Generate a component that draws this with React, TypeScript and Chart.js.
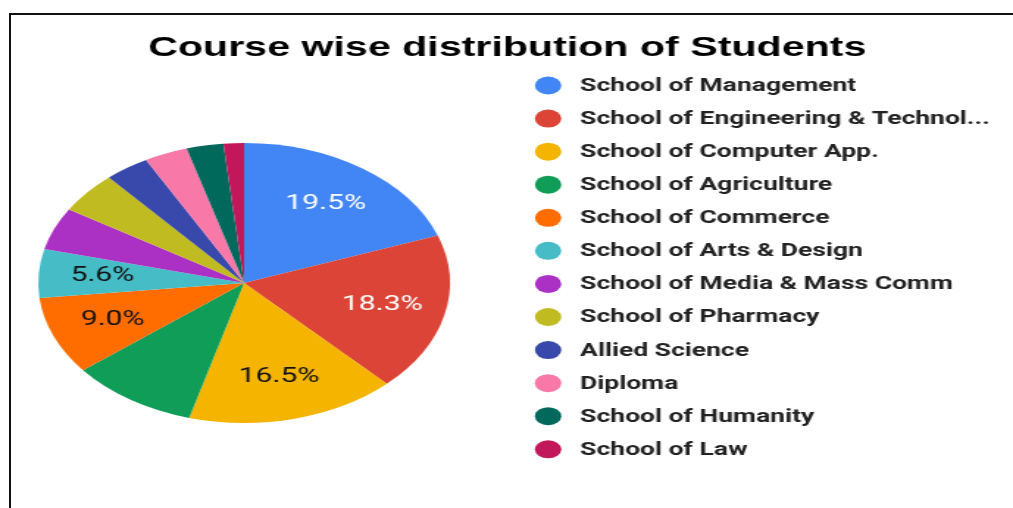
import React, { useEffect, useRef } from "react";
import { Chart, registerables } from "chart.js";

Chart.register(...registerables);

const TITLE = "Course wise distribution of Students";

const categories = [
  "School of Management",
  "School of Engineering & Technol...",
  "School of Computer App.",
  "School of Agriculture",
  "School of Commerce",
  "School of Arts & Design",
  "School of Media & Mass Comm",
  "School of Pharmacy",
  "Allied Science",
  "Diploma",
  "School of Humanity",
  "School of Law",
];

const shares = [19.5, 18.3, 16.5, 10.0, 9.0, 5.6, 4.9, 4.8, 3.5, 3.4, 2.9, 1.6];

const sliceColors = [
  "#4285F4",
  "#DB4437",
  "#F4B400",
  "#0F9D58",
  "#FF6D00",
  "#46BDC6",
  "#AB30C4",
  "#C1BB22",
  "#3949AB",
  "#F878A8",
  "#00695C",
  "#C2185B",
];

// label colour per slice (null = no label shown)
const labelColors: (string | null)[] = [
  "#ffffff",
  "#ffffff",
  "#111111",
  null,
  "#111111",
  "#111111",
  null,
  null,
  null,
  null,
  null,
  null,
];

const PAGE_W = 1013;
const PAGE_H = 508;
const SX = 1.47; // horizontal stretch of the picture
const CW = Math.round(PAGE_W / SX);
const CH = PAGE_H;

const overlayPlugin = {
  id: "overlay",
  afterDatasetsDraw(chart: any) {
    const ctx = chart.ctx;
    const meta = chart.getDatasetMeta(0);
    ctx.save();
    // slice labels
    ctx.font = '20.5px Roboto, "Noto Sans", sans-serif';
    ctx.textAlign = "center";
    ctx.textBaseline = "middle";
    meta.data.forEach((arc: any, i: number) => {
      const col = labelColors[i];
      if (!col) return;
      const p = arc.getProps(["x", "y", "startAngle", "endAngle", "outerRadius"], true);
      const mid = (p.startAngle + p.endAngle) / 2;
      const r = p.outerRadius * 0.69;
      ctx.fillStyle = col;
      ctx.fillText(shares[i].toFixed(1) + "%", p.x + Math.cos(mid) * r, p.y + Math.sin(mid) * r);
    });
    // title
    ctx.fillStyle = "#000000";
    ctx.font = 'bold 28px "Liberation Sans", Arial, sans-serif';
    ctx.fillText(TITLE, 345, 48);
    // legend
    const dotX = 372.8;
    const textX = 394.6;
    const y0 = 85.5;
    const step = 33.07;
    ctx.textAlign = "left";
    ctx.font = 'bold 18px Roboto, "Noto Sans", sans-serif';
    categories.forEach((name, i) => {
      const y = y0 + i * step;
      ctx.fillStyle = sliceColors[i];
      ctx.beginPath();
      ctx.arc(dotX, y, 9, 0, Math.PI * 2);
      ctx.fill();
      ctx.fillStyle = "#222222";
      ctx.fillText(name, textX, y + 1);
    });
    ctx.restore();
  },
};

export default function App() {
  const ref = useRef<HTMLCanvasElement | null>(null);
  useEffect(() => {
    if (!ref.current) return;
    const cx = 166;
    const cy = 283;
    const R = 140;
    const chart = new Chart(ref.current, {
      type: "pie",
      data: {
        labels: categories,
        datasets: [
          {
            data: shares,
            backgroundColor: sliceColors,
            borderWidth: 0,
            hoverOffset: 0,
          },
        ],
      },
      options: {
        animation: false,
        responsive: false,
        maintainAspectRatio: false,
        events: [],
        layout: {
          padding: {
            left: cx - R,
            right: CW - (cx + R),
            top: cy - R,
            bottom: CH - (cy + R),
          },
        },
        plugins: {
          legend: { display: false },
          title: { display: false },
          tooltip: { enabled: false },
        },
      },
      plugins: [overlayPlugin],
    });
    return () => chart.destroy();
  }, []);

  return (
    <div
      style={{
        position: "fixed",
        left: 0,
        top: 0,
        width: PAGE_W,
        height: PAGE_H,
        overflow: "hidden",
        background: "#ffffff",
      }}
    >
      <div
        style={{
          position: "absolute",
          left: 9,
          top: 13,
          width: 1200,
          height: 700,
          borderLeft: "2px solid #111",
          borderTop: "2px solid #111",
        }}
      />
      <canvas
        ref={ref}
        width={CW}
        height={CH}
        style={{ position: "absolute", left: 0, top: 0, width: PAGE_W, height: PAGE_H }}
      />
    </div>
  );
}
